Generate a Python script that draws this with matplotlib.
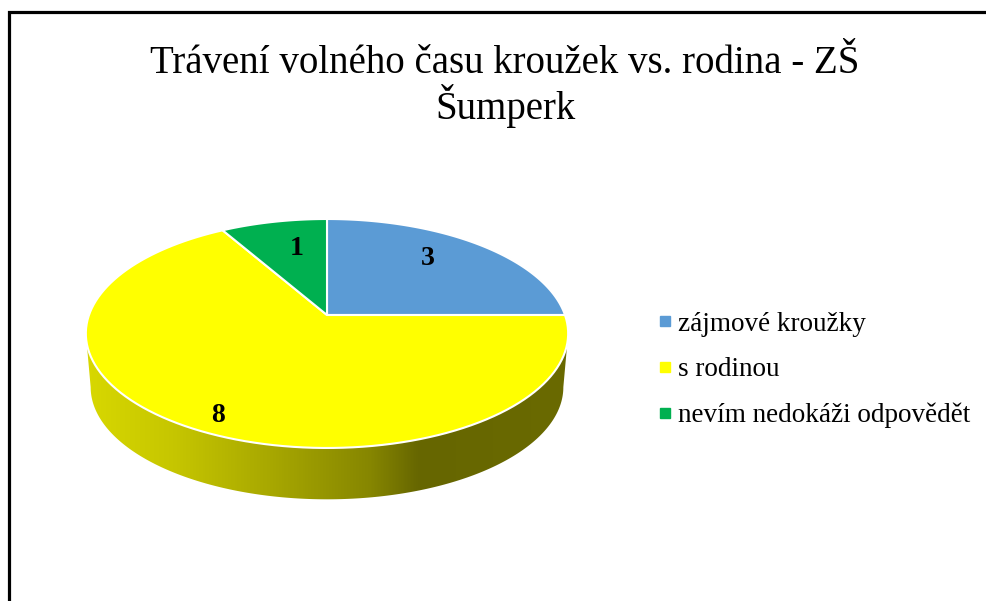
import numpy as np
import matplotlib.pyplot as plt
from matplotlib.patches import Polygon
from matplotlib.lines import Line2D
from matplotlib.colors import LinearSegmentedColormap

title = "Trávení volného času kroužek vs. rodina - ZŠ\nŠumperk"
categories = ["zájmové kroužky", "s rodinou", "nevím nedokáži odpovědět"]
values = [3, 8, 1]
colors = ["#5B9BD5", "#FFFF00", "#00B050"]

plt.rcParams['font.family'] = ['Liberation Serif', 'DejaVu Serif']

W, H = 986, 601
fig = plt.figure(figsize=(W / 100, H / 100), dpi=100)
ax = fig.add_axes([0, 0, 1, 1])
ax.set_xlim(0, W)
ax.set_ylim(H, 0)
ax.axis("off")

# pie geometry in pixels (perspective view of a tilted disc)
cx, cy = 327, 315
A, B, k = 238, 111.5, 0.1615
depth = 54
shrink = 0.98


def project(u, v, s=1.0, dy=0.0):
    w = 1 - k * v
    return cx + s * A * u / w, cy + dy + s * B * v / w


# side wall with horizontal gradient
a0 = np.arcsin(k)
phi = np.linspace(a0, np.pi - a0, 200)
tx, ty = project(np.cos(phi), np.sin(phi))
bx, by = project(np.cos(phi[::-1]), np.sin(phi[::-1]), shrink, depth)
wall = Polygon(np.column_stack([np.r_[tx, bx], np.r_[ty, by]]),
               closed=True, facecolor="none", edgecolor="none")
ax.add_patch(wall)
cmap = LinearSegmentedColormap.from_list("wall", [
    (0.0, "#d8d800"), (0.18, "#c6c600"), (0.38, "#a8a800"),
    (0.59, "#868600"), (0.69, "#666600"), (1.0, "#6a6a00")])
x0, x1 = tx.min(), tx.max()
grad = np.linspace(0, 1, 256)[None, :]
im = ax.imshow(grad, cmap=cmap, aspect="auto",
               extent=(x0, x1, by.max() + 2, ty.min()), zorder=1)
im.set_clip_path(wall)

# top face slices, clockwise from 12 o'clock
total = sum(values)
start = 0.0
label_r = [0.72, 0.88, 0.68]
label_shift = [-5, -3, 3]
for val, col, lr, sh in zip(values, colors, label_r, label_shift):
    span = 360.0 * val / total
    th = np.radians(np.linspace(start, start + span, 120))
    px, py = project(np.sin(th), -np.cos(th))
    ax.fill(np.r_[cx, px], np.r_[cy, py], facecolor=col,
            edgecolor="white", linewidth=1.5, zorder=2)
    mid = np.radians(start + span / 2 + sh)
    lx, ly = project(lr * np.sin(mid), -lr * np.cos(mid))
    ax.text(lx, ly, str(val), ha="center", va="center", fontsize=20,
            fontweight="bold", color="black", zorder=3)
    start += span

# title
ax.text(505, 45, title, ha="center", va="top", fontsize=28,
        linespacing=1.05, color="black")

# legend
handles = [Line2D([], [], marker="s", linestyle="none", markersize=7,
                  markerfacecolor=c, markeredgecolor=c) for c in colors]
fig.legend(handles, categories, loc="center left",
           bbox_to_anchor=(643 / W, 1 - 370 / H), frameon=False,
           fontsize=19.5, handlelength=0.6, handletextpad=0.2,
           labelspacing=0.75, borderpad=0)

# chart border (only top/left visible)
ax.plot([9, 9, W + 5], [H + 5, 12, 12], color="black", linewidth=2.3,
        solid_joinstyle="miter", zorder=5)

fig.savefig("out.png", dpi=100)
